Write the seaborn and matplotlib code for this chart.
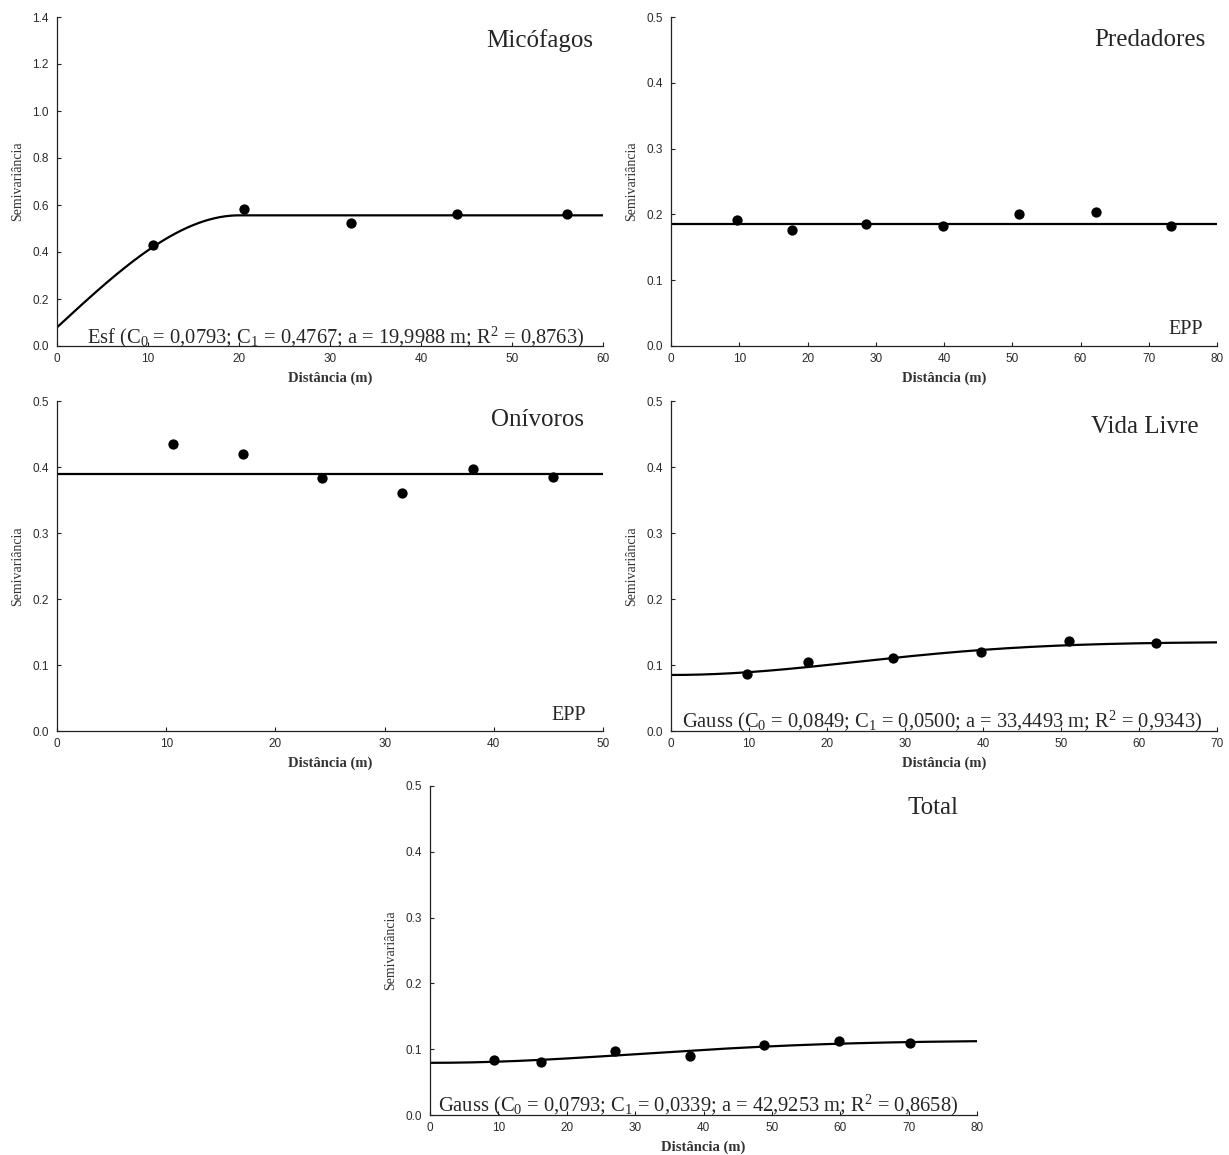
import numpy as np
import pandas as pd
import matplotlib
matplotlib.use("Agg")
import matplotlib.pyplot as plt
import seaborn as sns

# Experimental semivariograms (lag distance in m, semivariance)
mic_lag = [10.6, 20.5, 32.3, 44.0, 56.0]
mic_gamma = [0.430, 0.585, 0.522, 0.560, 0.560]

pred_lag = [9.7, 17.7, 28.5, 39.8, 51.0, 62.2, 73.3]
pred_gamma = [0.192, 0.176, 0.186, 0.182, 0.201, 0.203, 0.183]

oni_lag = [10.6, 17.0, 24.3, 31.6, 38.1, 45.4]
oni_gamma = [0.435, 0.420, 0.384, 0.361, 0.397, 0.385]

vl_lag = [9.8, 17.6, 28.5, 39.8, 51.0, 62.2]
vl_gamma = [0.086, 0.105, 0.111, 0.120, 0.136, 0.133]

tot_lag = [9.3, 16.2, 27.0, 38.0, 48.8, 59.8, 70.2]
tot_gamma = [0.083, 0.081, 0.097, 0.090, 0.107, 0.113, 0.109]

# Fitted model parameters
mic_model = dict(kind="sph", c0=0.0793, c1=0.4767, a=19.9988)
pred_nugget = 0.186
oni_nugget = 0.390
vl_model = dict(kind="gau", c0=0.0849, c1=0.0500, a=33.4493)
tot_model = dict(kind="gau", c0=0.0793, c1=0.0339, a=42.9253)

mic_label = r"Esf (C$_\mathrm{0}$ = 0,0793; C$_\mathrm{1}$ = 0,4767; a = 19,9988 m; R$^\mathrm{2}$ = 0,8763)"
vl_label = r"Gauss (C$_\mathrm{0}$ = 0,0849; C$_\mathrm{1}$ = 0,0500; a = 33,4493 m; R$^\mathrm{2}$ = 0,9343)"
tot_label = r"Gauss (C$_\mathrm{0}$ = 0,0793; C$_\mathrm{1}$ = 0,0339; a = 42,9253 m; R$^\mathrm{2}$ = 0,8658)"


def model_curve(m, xmax, n=400):
    h = np.linspace(0, xmax, n)
    if m["kind"] == "sph":
        r = np.clip(h / m["a"], 0, 1)
        g = m["c0"] + m["c1"] * (1.5 * r - 0.5 * r ** 3)
    else:
        g = m["c0"] + m["c1"] * (1 - np.exp(-(h / m["a"]) ** 2))
    return pd.DataFrame({"h": h, "g": g})


sns.set_style("ticks")
plt.rcParams["font.family"] = ["Liberation Serif", "DejaVu Serif"]
plt.rcParams["mathtext.fontset"] = "custom"
plt.rcParams["mathtext.rm"] = "Liberation Serif"
plt.rcParams["mathtext.it"] = "Liberation Serif:italic"
plt.rcParams["mathtext.bf"] = "Liberation Serif:bold"

fig = plt.figure(figsize=(12.29, 11.55), dpi=100)
W, H = 1229, 1155


def make_axes(left, top, right, bottom):
    return fig.add_axes([left / W, 1 - bottom / H, (right - left) / W, (bottom - top) / H])


def style(ax, xmax, xstep, ymax, ystep):
    ax.set_xlim(0, xmax)
    ax.set_ylim(0, ymax)
    ax.set_xticks(np.arange(0, xmax + 0.01, xstep))
    ax.set_yticks(np.round(np.arange(0, ymax + 1e-9, ystep), 2))
    ax.yaxis.set_major_formatter(matplotlib.ticker.FormatStrFormatter("%.1f"))
    ax.xaxis.set_major_formatter(matplotlib.ticker.FormatStrFormatter("%d"))
    for lab in ax.get_xticklabels() + ax.get_yticklabels():
        lab.set_fontfamily("Liberation Sans")
        lab.set_fontsize(8.5)
        lab.set_color("#2a2a2a")
    ax.tick_params(direction="in", length=3, width=0.8, color="#222222")
    ax.tick_params(axis="y", pad=6)
    ax.tick_params(axis="x", pad=5)
    for s in ("top", "right"):
        ax.spines[s].set_visible(False)
    for s in ("left", "bottom"):
        ax.spines[s].set_linewidth(0.9)
        ax.spines[s].set_color("#222222")
    ax.set_xlabel("Distância (m)", fontsize=10.5, fontweight="bold", color="#333333", labelpad=5)
    ax.set_ylabel("Semivariância", fontsize=10, color="#333333", labelpad=6)


def panel(ax, lag, gamma, curve, title, title_pos, xmax, xstep, ymax, ystep,
          note=None, note_pos=None, epp=False, epp_pos=None):
    sns.lineplot(data=curve, x="h", y="g", ax=ax, color="black", linewidth=1.6)
    pts = pd.DataFrame({"h": lag, "g": gamma})
    sns.scatterplot(data=pts, x="h", y="g", ax=ax, color="black", s=55,
                    edgecolor="black", linewidth=0, zorder=5, clip_on=False)
    style(ax, xmax, xstep, ymax, ystep)
    ax.text(title_pos[0], title_pos[1], title, transform=ax.transAxes,
            ha="right", va="center", fontsize=18)
    if note is not None:
        ax.text(note_pos[0], note_pos[1], note, transform=ax.transAxes,
                ha="center", va="center", fontsize=14.8)
    if epp:
        ax.text(epp_pos[0], epp_pos[1], "EPP", transform=ax.transAxes,
                ha="right", va="center", fontsize=14.5)


ax1 = make_axes(57, 17, 603, 346)
panel(ax1, mic_lag, mic_gamma, model_curve(mic_model, 60), "Micófagos", (0.982, 0.93),
      60, 10, 1.4, 0.2, note=mic_label, note_pos=(0.511, 0.026))

ax2 = make_axes(671, 17, 1217, 346)
pred_curve = pd.DataFrame({"h": [0, 80], "g": [pred_nugget, pred_nugget]})
panel(ax2, pred_lag, pred_gamma, pred_curve, "Predadores", (0.978, 0.93),
      80, 10, 0.5, 0.1, epp=True, epp_pos=(0.974, 0.05))

ax3 = make_axes(57, 401, 603, 731)
oni_curve = pd.DataFrame({"h": [0, 50], "g": [oni_nugget, oni_nugget]})
panel(ax3, oni_lag, oni_gamma, oni_curve, "Onívoros", (0.965, 0.942),
      50, 10, 0.5, 0.1, epp=True, epp_pos=(0.968, 0.046))

ax4 = make_axes(671, 401, 1217, 731)
panel(ax4, vl_lag, vl_gamma, model_curve(vl_model, 70), "Vida Livre", (0.967, 0.921),
      70, 10, 0.5, 0.1, note=vl_label, note_pos=(0.497, 0.028))

ax5 = make_axes(430, 786, 977, 1115)
panel(ax5, tot_lag, tot_gamma, model_curve(tot_model, 80), "Total", (0.967, 0.933),
      80, 10, 0.5, 0.1, note=tot_label, note_pos=(0.49, 0.028))

fig.savefig("out.png", dpi=100, facecolor="white")
